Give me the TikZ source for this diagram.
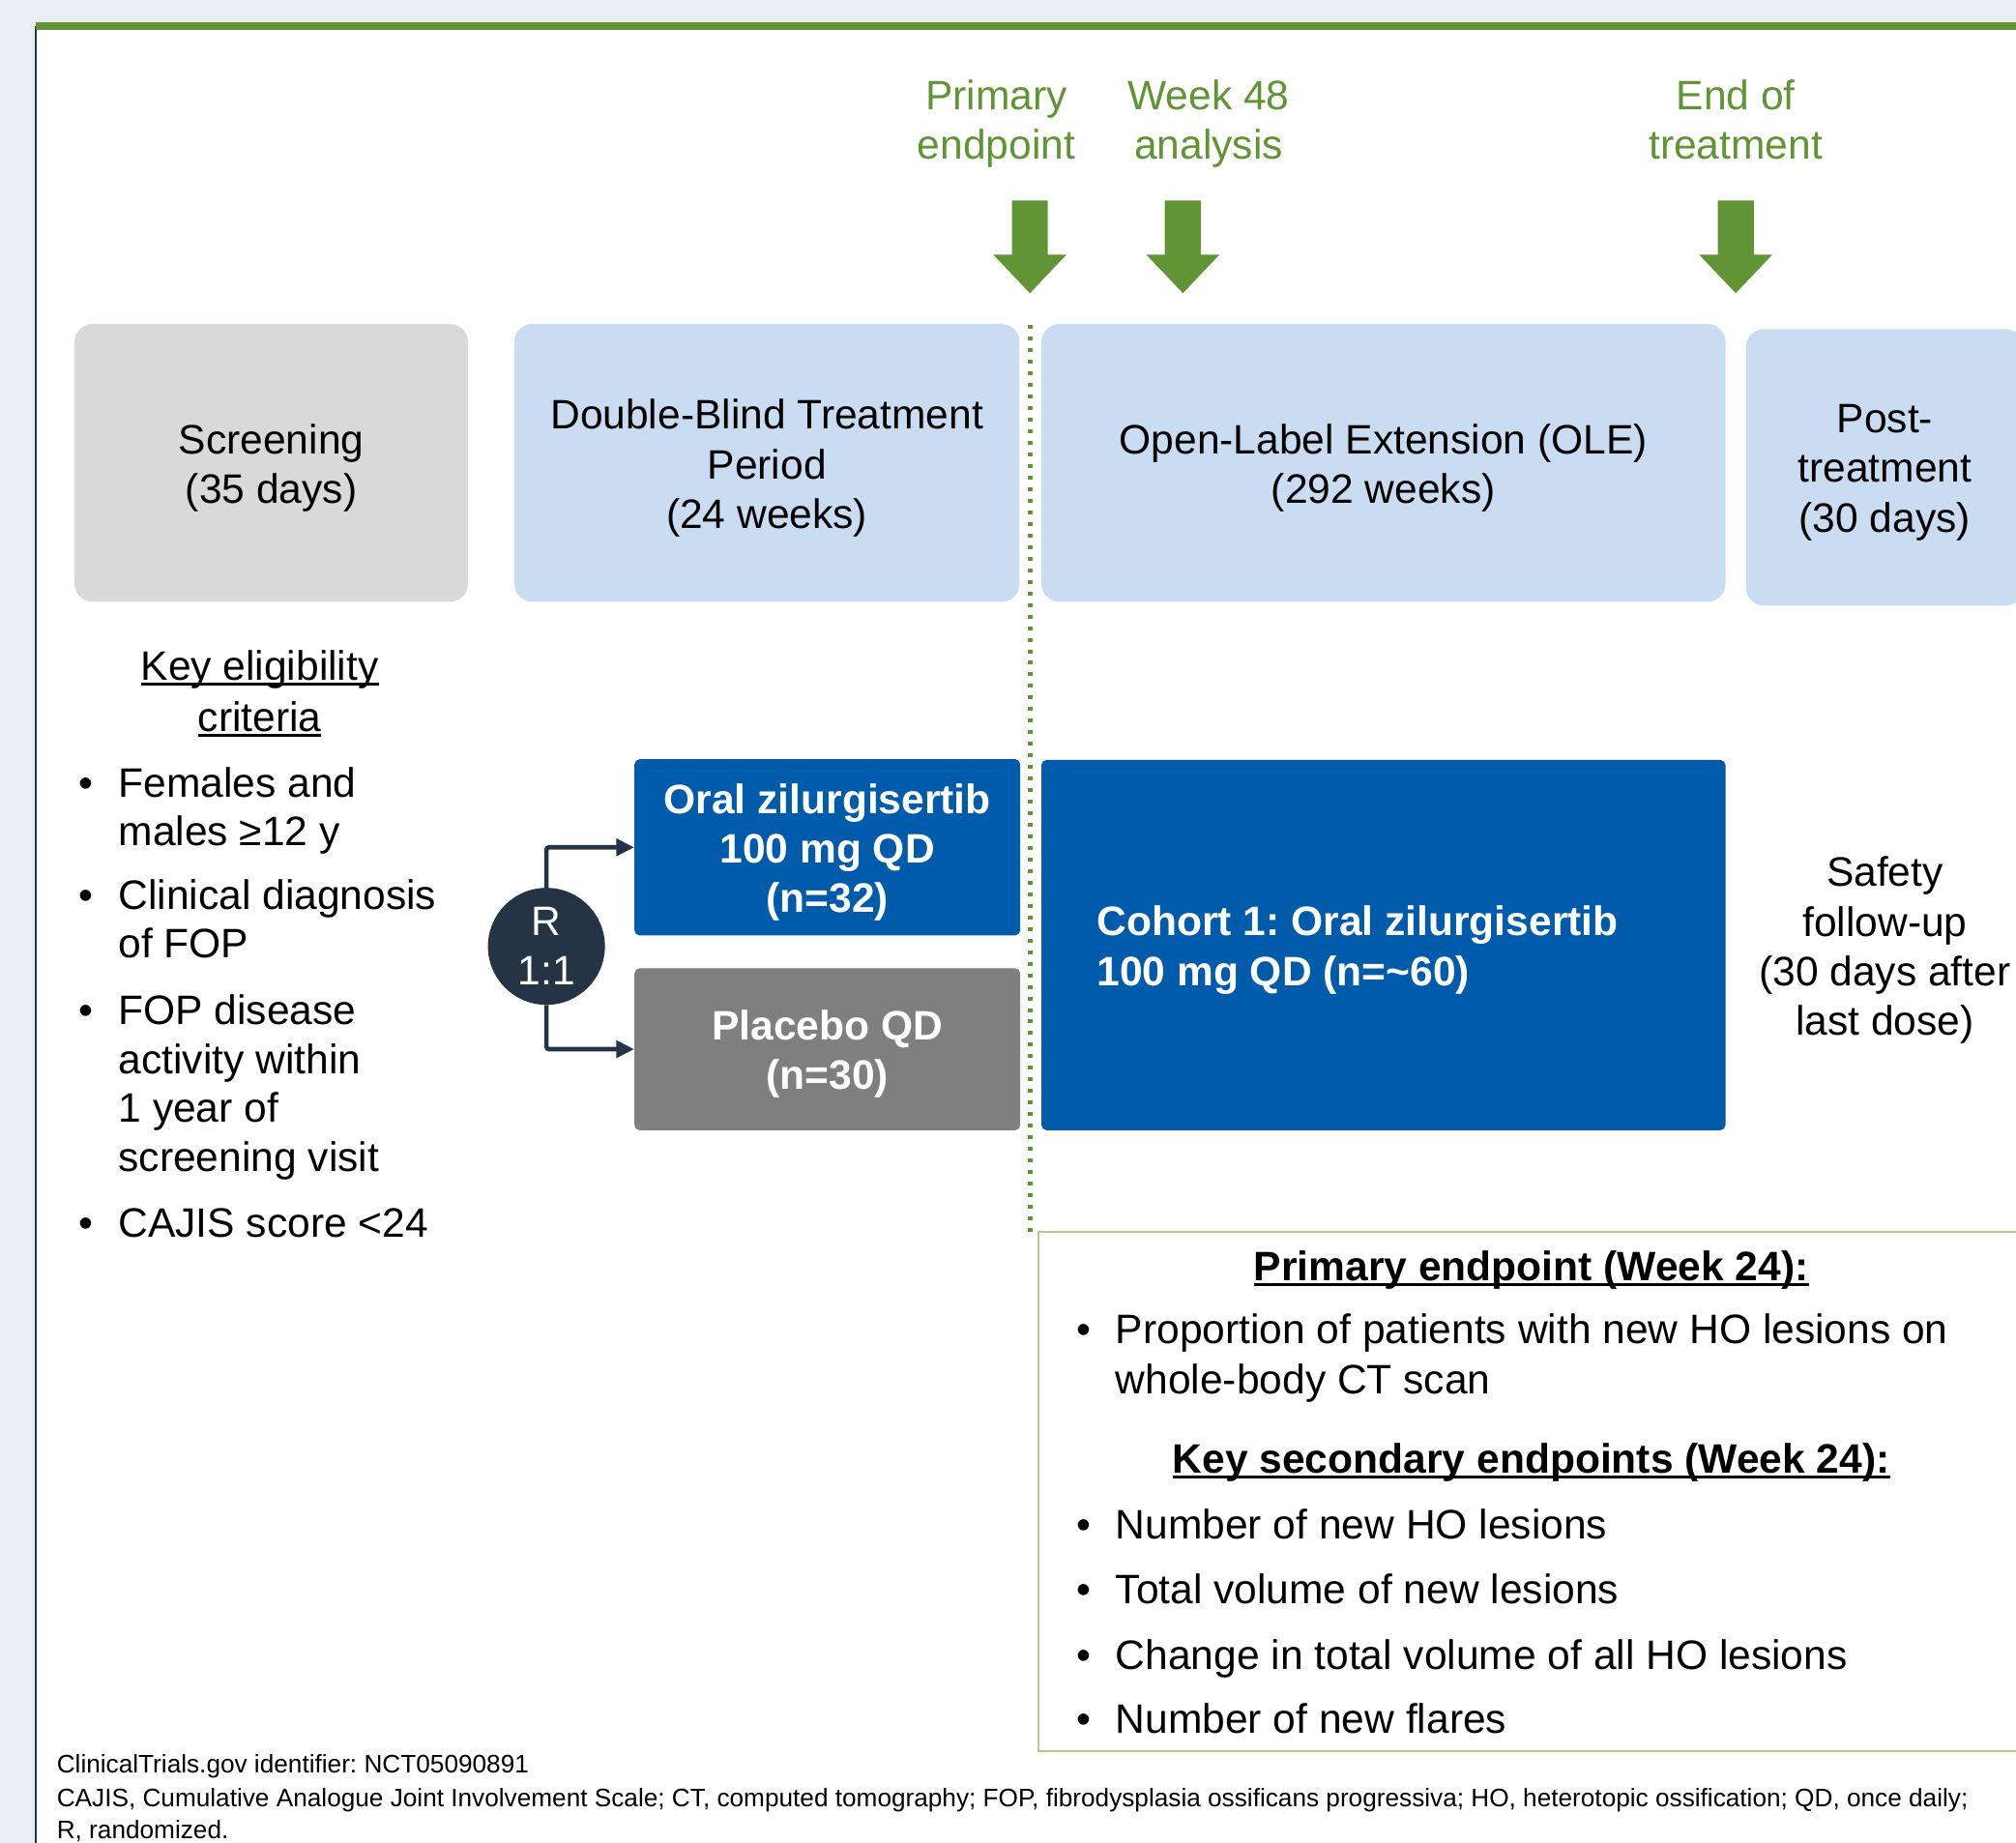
\documentclass[tikz,border=0pt]{standalone}
\usepackage{fontspec}
\setmainfont{Liberation Sans}
\usetikzlibrary{arrows.meta}
\definecolor{bgc}{RGB}{233,237,246}
\definecolor{grn}{RGB}{97,148,52}
\definecolor{lblue}{RGB}{201,220,241}
\definecolor{lgray}{RGB}{217,217,217}
\definecolor{dblue}{RGB}{0,92,170}
\definecolor{mgray}{RGB}{127,127,127}
\definecolor{navy}{RGB}{37,52,69}
\definecolor{lgreen}{RGB}{169,209,142}
\frenchspacing
\newcommand{\fsz}{\fontsize{32pt}{38.5pt}\selectfont}
\newcommand{\fnsz}{\fontsize{19.7pt}{25.5pt}\selectfont}
\newcommand{\myul}[1]{\setbox0=\hbox{#1}\rlap{\rule[-4pt]{\wd0}{2.2pt}}\box0}
\tikzset{
  phasebox/.style={rounded corners=14pt, inner sep=0pt},
  armbox/.style={rounded corners=4pt, inner sep=0pt},
  boxtxt/.style={align=center, font=\fsz, text=black, inner sep=0pt},
  armtxt/.style={align=center, font=\fsz\bfseries, text=white, inner sep=0pt},
  glabel/.style={align=center, font=\fsz, text=grn, inner sep=0pt},
  txt/.style={font=\fsz, inner sep=0pt, text=black},
  fnote/.style={font=\fnsz, inner sep=0pt, anchor=base west, text=black},
  conn/.style={navy, line width=3.5pt, rounded corners=2pt, -{Triangle[length=14pt,width=13pt]}},
  garrow/.pic={\fill[grn] (-14,0) -- (14,0) -- (14,42) -- (28.5,42) -- (0,72) -- (-28.5,42) -- (-14,42) -- cycle;}
}
\begin{document}
\begin{tikzpicture}[x=1pt, y=-1pt]
\clip (0,0) rectangle (1568,1433);
\fill[bgc] (0,0) rectangle (1568,1433);
\fill[white] (28,22) rectangle (1568,1433);
\draw[navy, line width=1.5pt] (28,20) -- (28,1433);
\draw[grn, line width=6pt] (28,20) -- (1568,20);

% milestone labels and arrows
\node[glabel] (lab1) at (775,96) {Primary\\endpoint};
\node[glabel] (lab2) at (940,96) {Week 48\\analysis};
\node[glabel] (lab3) at (1350,93) {End of\\treatment};
\pic at (801,156) {garrow};
\pic at (920,156) {garrow};
\pic at (1350,156) {garrow};

% phase boxes
\node[phasebox, fill=lgray, minimum width=306pt, minimum height=216pt] (scr) at (211,360) {};
\node[boxtxt] (scrt) at (211,364) {Screening\\(35 days)};
\node[phasebox, fill=lblue, minimum width=393pt, minimum height=216pt] (db) at (596.5,360) {};
\node[boxtxt] (dbt) at (596.5,364) {Double-Blind Treatment\\Period\\(24 weeks)};
\node[phasebox, fill=lblue, minimum width=532pt, minimum height=216pt] (ole) at (1076,360) {};
\node[boxtxt] (olet) at (1076,364) {Open-Label Extension (OLE)\\(292 weeks)};
\node[phasebox, fill=lblue, minimum width=216pt, minimum height=215pt] (post) at (1466,363.5) {};
\node[boxtxt] (postt) at (1466,367.5) {Post-\\treatment\\(30 days)};

% dotted divider
\coordinate (dtop) at (801,253);
\coordinate (dbot) at (801,958);
\draw[grn, line width=3.8pt, dash pattern=on 3pt off 6pt] (dtop) -- (dbot);

% eligibility
\node[txt, anchor=base] (ke1) at (202,529) {\myul{Key eligibility}};
\node[txt, anchor=base] (ke2) at (202,569) {\myul{criteria}};
\foreach \yy/\tt/\bb in {620/Females and/1, 657.5/males ≥12 y/0, 707.5/Clinical diagnosis/1, 745/of FOP/0, 797/FOP disease/1, 835/activity within/0, 873/1 year of/0, 911/screening visit/0, 962/CAJIS score <24/1}{
  \node[txt, anchor=base west] at (92,\yy) {\tt};
  \ifnum\bb=1 \node[txt, anchor=base] at (67,\yy) {•};\fi
}

% randomisation
\node[circle, fill=navy, minimum size=91pt, inner sep=0pt, text=white, align=center, font=\fsz] (R) at (425,736) {R\\1:1};
\node[armbox, fill=dblue, minimum width=300pt, minimum height=137pt] (oral) at (643.5,659) {};
\node[armtxt] (oralt) at (643.5,663) {Oral zilurgisertib\\100 mg QD\\(n=32)};
\node[armbox, fill=mgray, minimum width=300pt, minimum height=126pt] (plac) at (643.5,816) {};
\node[armtxt] (plact) at (643.5,820) {Placebo QD\\(n=30)};
\draw[conn] (R.north) |- (oral.west);
\draw[conn] (R.south) |- (plac.west);

% cohort
\node[armbox, fill=dblue, minimum width=532pt, minimum height=288pt] (coh) at (1076,735) {};
\node[armtxt, align=left, anchor=west] (coht) at (853,739) {Cohort 1: Oral zilurgisertib\\100 mg QD (n=\textasciitilde60)};

% safety
\node[boxtxt] (saf) at (1466,739) {Safety\\follow-up\\(30 days after\\last dose)};

% endpoints box
\node[draw=lgreen, line width=1.5pt, fill=white, minimum width=772pt, minimum height=404pt, inner sep=0pt] (ep) at (1194,1160) {};
\node[txt, anchor=base, font=\fsz\bfseries] (eph1) at (1191,996) {\myul{Primary endpoint (Week 24):}};
\node[txt, anchor=base, font=\fsz\bfseries] (eph2) at (1191,1146) {\myul{Key secondary endpoints (Week 24):}};
\foreach \yy/\tt/\bb in {1045/Proportion of patients with new HO lesions on/1, 1084/whole-body CT scan/0, 1197/Number of new HO lesions/1, 1247/Total volume of new lesions/1, 1298/Change in total volume of all HO lesions/1, 1348/Number of new flares/1}{
  \node[txt, anchor=base west] at (867.5,\yy) {\tt};
  \ifnum\bb=1 \node[txt, anchor=base] at (843,\yy) {•};\fi
}

% footnotes
\node[fnote] (fn1) at (44,1379) {ClinicalTrials.gov identifier: NCT05090891};
\node[fnote] (fn2) at (44,1405) {CAJIS, Cumulative Analogue Joint Involvement Scale; CT, computed tomography; FOP, fibrodysplasia ossificans progressiva; HO, heterotopic ossification; QD, once daily;};
\node[fnote] (fn3) at (44,1430) {R, randomized.};
\end{tikzpicture}
\end{document}
